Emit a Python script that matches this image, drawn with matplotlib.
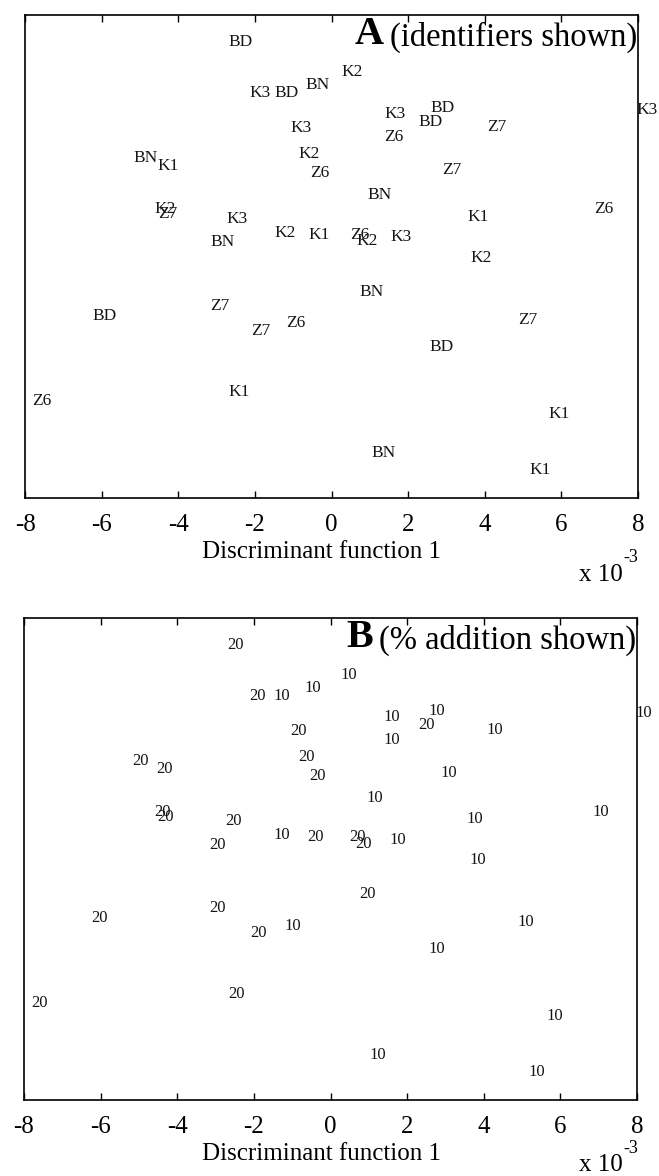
import matplotlib
matplotlib.use("Agg")
import matplotlib.pyplot as plt

plt.rcParams['font.family'] = ['Liberation Serif', 'DejaVu Serif']

# Discriminant function 1 (x 10^-3) and function 2 (arbitrary units)
df1 = [-2.70, -2.13, -1.50, -0.69, -1.06, -0.85, -0.56, -5.18, -4.55, -4.61,
       -4.53, -2.75, -3.17, -1.50, -0.61, 0.27, 1.37, 2.57, 2.28, 4.06,
       7.97, 1.37, 2.88, 0.95, 3.56, 6.85, 0.48, 0.64, 1.55, 3.62,
       0.74, 4.87, 2.55, 5.65, 1.03, 5.16, -6.25, -3.17, -2.10, -1.19,
       -7.82, -2.68]
df2 = [4.44, 3.39, 3.39, 3.55, 2.66, 2.12, 1.73, 2.04, 1.87, 0.98,
       0.88, 0.78, 0.30, 0.49, 0.45, 3.82, 2.95, 3.07, 2.78, 2.68,
       3.03, 2.47, 1.79, 1.27, 0.82, 0.98, 0.45, 0.32, 0.40, -0.03,
       -0.73, -1.31, -1.87, -3.26, -4.07, -4.42, -1.23, -1.02, -1.54, -1.38,
       -2.99, -2.81]
identifiers = ['BD', 'K3', 'BD', 'BN', 'K3', 'K2', 'Z6', 'BN', 'K1', 'K2',
               'Z7', 'K3', 'BN', 'K2', 'K1', 'K2', 'K3', 'BD', 'BD', 'Z7',
               'K3', 'Z6', 'Z7', 'BN', 'K1', 'Z6', 'Z6', 'K2', 'K3', 'K2',
               'BN', 'Z7', 'BD', 'K1', 'BN', 'K1', 'BD', 'Z7', 'Z7', 'Z6',
               'Z6', 'K1']
addition = ['20', '20', '10', '10', '20', '20', '20', '20', '20', '20',
            '20', '20', '20', '10', '20', '10', '10', '10', '20', '10',
            '10', '10', '10', '10', '10', '10', '20', '20', '10', '10',
            '20', '10', '10', '10', '10', '10', '20', '20', '20', '10',
            '20', '20']
xticks = [-8, -6, -4, -2, 0, 2, 4, 6, 8]

W, H = 659, 1176
fig = plt.figure(figsize=(W / 100, H / 100), dpi=100)

panels = [
    dict(rect=(25, 15, 638, 498), labels=identifiers, letter='A',
         caption='(identifiers shown)', xlab_off=60, x10_off=(83, 64),
         lab_size=12.5),
    dict(rect=(24, 618, 637, 1100), labels=addition, letter='B',
         caption='(% addition shown)', xlab_off=60, x10_off=(71, 53),
         lab_size=12),
]

for p in panels:
    l, t, r, b = p['rect']
    ax = fig.add_axes([l / W, 1 - b / H, (r - l) / W, (b - t) / H])
    ax.set_xlim(-8, 8)
    ax.set_ylim(-5, 5)
    ax.set_xticks(xticks)
    ax.set_xticklabels([str(v) for v in xticks], fontsize=18)
    ax.set_yticks([])
    ax.tick_params(axis='x', direction='in', top=True, bottom=True,
                   length=5, width=1, pad=11.5)
    for s in ax.spines.values():
        s.set_linewidth(1.2)
    for x, y, lab in zip(df1, df2, p['labels']):
        ax.text(x, y, lab, ha='left', va='center', fontsize=p['lab_size'],
                color='#151515')
    h = b - t
    wpx = r - l
    # x label
    ax.text((321.5 - l) / wpx, -p['xlab_off'] / h, 'Discriminant function 1',
            transform=ax.transAxes, ha='center', va='baseline', fontsize=18)
    # exponent
    ax.text((623 - l) / wpx, -p['x10_off'][0] / h, 'x 10',
            transform=ax.transAxes, ha='right', va='baseline', fontsize=18)
    ax.text((623 - l) / wpx, -p['x10_off'][1] / h, '-3',
            transform=ax.transAxes, ha='left', va='baseline', fontsize=13)
    # caption
    cap = ax.text(0.998, 1 - 31 / h, p['caption'], transform=ax.transAxes,
                  ha='right', va='baseline', fontsize=23.5)
    ax.annotate(p['letter'], xy=(0, 0), xycoords=cap,
                xytext=(-4, 0), textcoords='offset points',
                ha='right', va='bottom', fontsize=29, fontweight='bold')

fig.savefig('out.png', dpi=100)
